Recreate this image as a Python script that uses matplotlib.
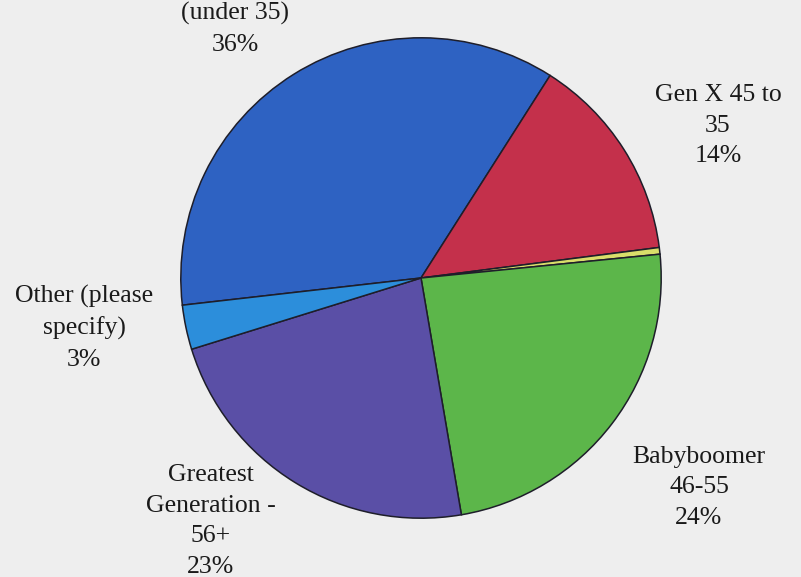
import matplotlib.pyplot as plt

# survey share by generation (percent)
groups = ["Gen Y (under 35)", "Gen X 45 to 35", "", "Babyboomer 46-55",
          "Greatest Generation - 56+", "Other (please specify)"]
shares = [36, 14, 0.45, 24, 23, 3]
colors = ["#2E62C2", "#C4304B", "#D9DE6A", "#5CB64A", "#5A4FA6", "#2C8EDB"]

# label text (line breaks as laid out beside the pie)
label_lines = [
    "(under 35)",
    "Gen X 45 to\n35",
    None,
    "Babyboomer\n46-55",
    "Greatest\nGeneration -\n56+",
    "Other (please\nspecify)",
]
# label centres in figure pixels (x, y from top)
label_pos = [(235, 29), (718, 126), None, (699, 487), (211, 521), (84, 328)]

W, H = 801, 577
fig = plt.figure(figsize=(W / 100, H / 100), dpi=100)
fig.patch.set_facecolor("#EEEEEE")

cx, cy, r = 421, 278, 245
ax = fig.add_axes([(cx - r) / W, (H - cy - r) / H, 2 * r / W, 2 * r / H])
ax.set_facecolor("none")

wedges, _ = ax.pie(shares, colors=colors, startangle=186.5, counterclock=False,
                   radius=1, wedgeprops=dict(edgecolor="#1E1E2A", linewidth=1.1))
ax.set_xlim(-1.02, 1.02)
ax.set_ylim(-1.02, 1.02)
ax.axis("off")

for txt, pos, val in zip(label_lines, label_pos, shares):
    if txt is None:
        continue
    s = f"{txt}\n{round(val)}%"
    fig.text(pos[0] / W, 1 - pos[1] / H, s, ha="center", va="center",
             fontsize=18.5, family="Liberation Serif", color="#1A1A1A",
             linespacing=1.5)

fig.savefig("out.png", dpi=100, facecolor=fig.get_facecolor())
